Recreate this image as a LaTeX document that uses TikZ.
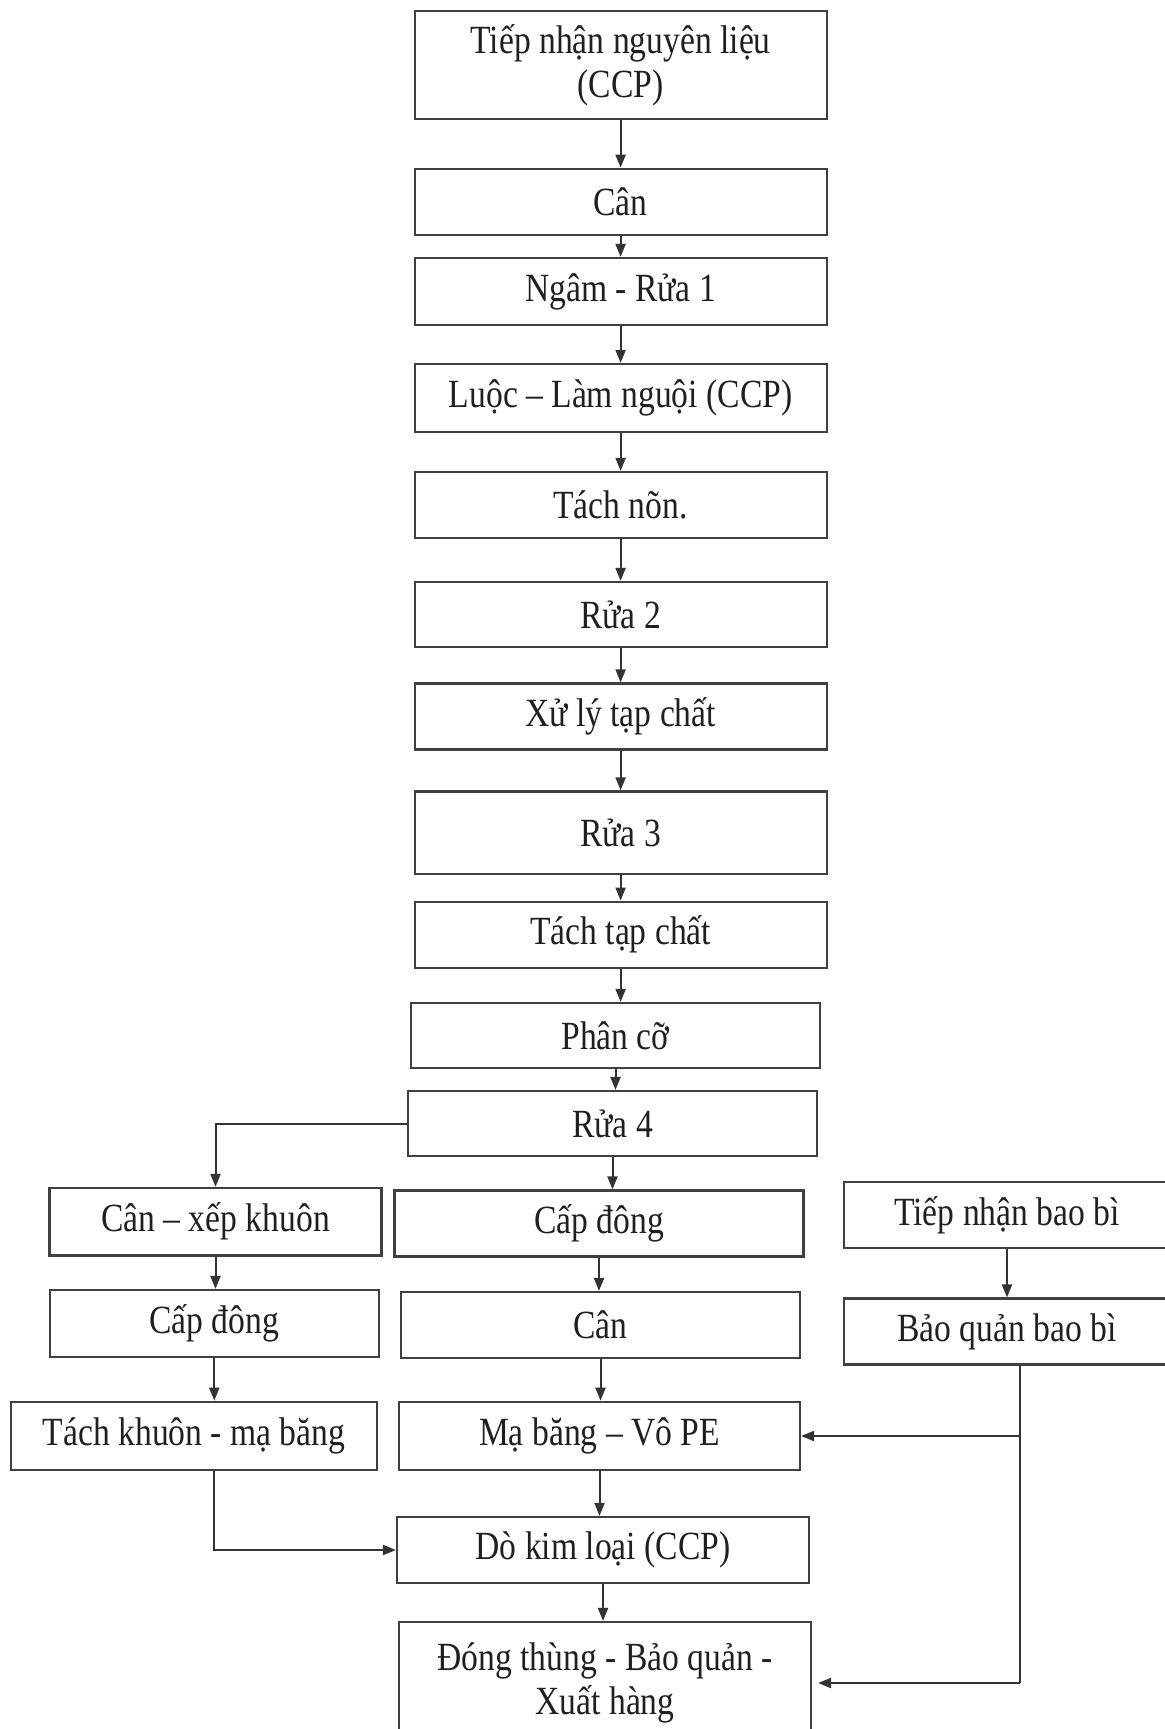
\documentclass[tikz,border=0pt]{standalone}
\usepackage{fontspec}
\setmainfont{Liberation Serif}[FakeStretch=0.84]
\usetikzlibrary{arrows.meta}
\begin{document}
\begin{tikzpicture}[x=0.5pt,y=-0.5pt,
  procbox/.style={draw=black!75, line width=1.1pt, align=center, inner sep=0pt,
    text=black!88, font=\fontsize{20}{22}\selectfont},
  arr/.style={draw=black!80, line width=1pt, -{Triangle[length=6.5pt,width=5pt]}},
  ln/.style={draw=black!80, line width=1pt}]
\useasboundingbox (0,0) rectangle (1165,1729);
\clip (0,0) rectangle (1165,1729);
% main column
\node[procbox, minimum width=206pt, minimum height=54pt] (n1) at (620.6,65) {Tiếp nhận nguyên liệu\\(CCP)};
\node[procbox, minimum width=206pt, minimum height=33pt] (n2) at (620.6,201.8) {Cân};
\node[procbox, minimum width=206pt, minimum height=33.5pt] (n3) at (620.6,291.5) {Ngâm - Rửa 1};
\node[procbox, minimum width=206pt, minimum height=34pt] (n4) at (620.6,398) {Luộc – Làm nguội (CCP)};
\node[procbox, minimum width=206pt, minimum height=33pt] (n5) at (620.6,505) {Tách nõn.};
\node[procbox, minimum width=206pt, minimum height=32.5pt] (n6) at (620.6,614.5) {Rửa 2};
\node[procbox, minimum width=206pt, minimum height=33pt] (n7) at (620.6,716.5) {Xử lý tạp chất};
\node[procbox, minimum width=206pt, minimum height=41.25pt] (n8) at (620.6,832.7) {Rửa 3};
\node[procbox, minimum width=206pt, minimum height=33pt] (n9) at (620.6,934.7) {Tách tạp chất};
\node[procbox, minimum width=204.5pt, minimum height=32.5pt] (n10) at (615.5,1035.5) {Phân cỡ};
\node[procbox, minimum width=204.5pt, minimum height=32.5pt] (n11) at (612.5,1123.5) {Rửa 4};
% left column
\node[procbox, minimum width=166pt, minimum height=33.75pt] (l1) at (215.5,1221.7) {Cân – xếp khuôn};
\node[procbox, minimum width=164.7pt, minimum height=33.5pt] (l2) at (214.3,1323.5) {Cấp đông};
\node[procbox, minimum width=183pt, minimum height=34.25pt] (l3) at (194,1436) {Tách khuôn - mạ băng};
% middle column
\node[procbox, minimum width=204.5pt, minimum height=33pt] (m1) at (599,1223.5) {Cấp đông};
\node[procbox, minimum width=199.5pt, minimum height=33pt] (m2) at (600.5,1325) {Cân};
\node[procbox, minimum width=200.5pt, minimum height=34.25pt] (m3) at (599.5,1436) {Mạ băng – Vô PE};
\node[procbox, minimum width=206pt, minimum height=33pt] (m4) at (603,1550) {Dò kim loại (CCP)};
\node[procbox, minimum width=206pt, minimum height=61pt] (m5) at (605,1683) {Đóng thùng - Bảo quản -\\Xuất hàng};
% right column
\node[procbox, minimum width=163pt, minimum height=33pt] (r1) at (1007,1215) {Tiếp nhận bao bì};
\node[procbox, minimum width=163pt, minimum height=33pt] (r2) at (1007,1331.5) {Bảo quản bao bì};
% connectors main
\draw[arr] (n1.south) -- (n1.south |- n2.north);
\draw[arr] (n2.south) -- (n2.south |- n3.north);
\draw[arr] (n3.south) -- (n3.south |- n4.north);
\draw[arr] (n4.south) -- (n4.south |- n5.north);
\draw[arr] (n5.south) -- (n5.south |- n6.north);
\draw[arr] (n6.south) -- (n6.south |- n7.north);
\draw[arr] (n7.south) -- (n7.south |- n8.north);
\draw[arr] (n8.south) -- (n8.south |- n9.north);
\draw[arr] (n9.south) -- (n9.south |- n10.north);
\draw[arr] (n10.south) -- (n10.south |- n11.north);
% branches
\draw[arr] (n11.west) -| (l1.north);
\draw[arr] (n11.south) -- (n11.south |- m1.north);
\draw[arr] (l1.south) -- (l1.south |- l2.north);
\draw[arr] (l2.south) -- (l2.south |- l3.north);
\draw[arr] (l3.south -| l2.south) |- (m4.west);
\draw[arr] (m1.south) -- (m1.south |- m2.north);
\draw[arr] (m2.south) -- (m2.south |- m3.north);
\draw[arr] (m3.south) -- (m3.south |- m4.north);
\draw[arr] (m4.south) -- (m4.south |- m5.north);
\draw[arr] (r1.south) -- (r1.south |- r2.north);
\coordinate (rb) at (1019.6,1683);
\draw[ln] (r2.south -| rb) -- (rb);
\draw[arr, shorten >=3pt] (rb) -- (m5.east);
\draw[arr] (rb |- m3.east) -- (m3.east);
\end{tikzpicture}
\end{document}
